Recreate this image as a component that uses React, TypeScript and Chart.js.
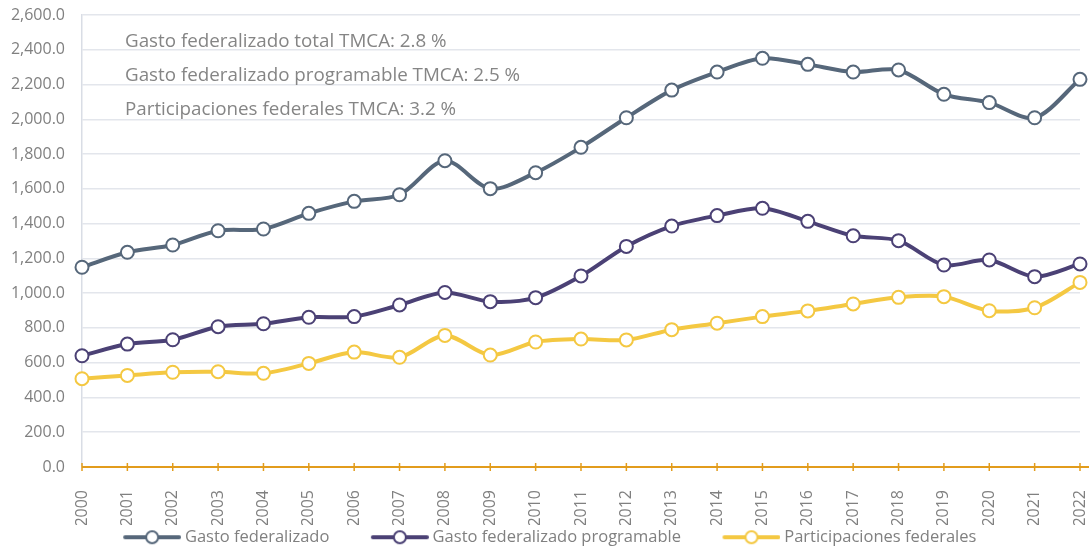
import { useEffect, useRef } from 'react';
import { Chart, registerables } from 'chart.js';

Chart.register(...registerables);

const years = [
  '2000', '2001', '2002', '2003', '2004', '2005', '2006', '2007', '2008', '2009', '2010', '2011',
  '2012', '2013', '2014', '2015', '2016', '2017', '2018', '2019', '2020', '2021', '2022',
];
const gastoFederalizado = [
  1149, 1235, 1277, 1359, 1369, 1459, 1528, 1566, 1762, 1601, 1693, 1839,
  2009, 2168, 2272, 2351, 2316, 2272, 2284, 2144, 2096, 2009, 2230,
];
const gastoProgramable = [
  640, 707, 732, 807, 824, 861, 865, 932, 1004, 951, 974, 1099,
  1269, 1386, 1446, 1488, 1413, 1330, 1302, 1162, 1191, 1095, 1168,
];
const participacionesFederales = [
  508, 527, 545, 548, 539, 596, 661, 631, 757, 644, 719, 736,
  731, 790, 827, 865, 898, 938, 976, 980, 899, 916, 1062,
];
const seriesNames = ['Gasto federalizado', 'Gasto federalizado programable', 'Participaciones federales'];
const seriesColors = ['#56677a', '#4b4175', '#f4c842'];
const tmcaNotes = [
  'Gasto federalizado total TMCA: 2.8 %',
  'Gasto federalizado programable TMCA: 2.5 %',
  'Participaciones federales TMCA: 3.2 %',
];
const yMax = 2600;
const yStep = 200;

const FONT = '"Open Sans", sans-serif';
const TEXT_GRAY = '#808080';
const AXIS_ORANGE = '#e29c1c';

// Legend swatch: a line segment with a hollow marker; the transparent lead-in
// on the left widens the gap between legend entries.
const SWATCH_W = 100;
const SWATCH_BOX = 91;
function legendMarker(color: string): HTMLCanvasElement {
  const c = document.createElement('canvas');
  c.width = SWATCH_W;
  c.height = 16;
  const ctx = c.getContext('2d')!;
  const x0 = SWATCH_W - 58;
  ctx.strokeStyle = color;
  ctx.lineWidth = 4;
  ctx.lineCap = 'round';
  ctx.beginPath();
  ctx.moveTo(x0 + 2, 8);
  ctx.lineTo(x0 + 56, 8);
  ctx.stroke();
  ctx.beginPath();
  ctx.arc(x0 + 29, 8, 6, 0, Math.PI * 2);
  ctx.fillStyle = '#ffffff';
  ctx.fill();
  ctx.lineWidth = 2;
  ctx.stroke();
  return c;
}

// Growth-rate notes in the upper-left corner of the plot
const notesPlugin = {
  id: 'tmcaNotes',
  beforeDatasetsDraw(chart: any) {
    const { ctx, chartArea } = chart;
    ctx.save();
    ctx.font = `18.8px ${FONT}`;
    ctx.fillStyle = '#858585';
    ctx.textBaseline = 'middle';
    tmcaNotes.forEach((t, i) => {
      ctx.fillText(t, chartArea.left + 43, chartArea.top + 27 + i * 34);
    });
    ctx.restore();
  },
};

// Orange baseline with tick marks crossing it at every year
const baselinePlugin = {
  id: 'orangeBaseline',
  beforeDatasetsDraw(chart: any) {
    const { ctx, chartArea, scales } = chart;
    const y = scales.y.getPixelForValue(0);
    ctx.save();
    ctx.strokeStyle = AXIS_ORANGE;
    ctx.lineWidth = 2;
    ctx.beginPath();
    ctx.moveTo(chartArea.left, y);
    ctx.lineTo(chart.width, y);
    ctx.stroke();
    ctx.lineWidth = 1.5;
    years.forEach((_, i) => {
      const x = scales.x.getPixelForValue(i);
      ctx.beginPath();
      ctx.moveTo(x, y - 4);
      ctx.lineTo(x, y + 4);
      ctx.stroke();
    });
    ctx.restore();
  },
};

// Nudge the legend row a little to the left of centre
const legendOffsetPlugin = {
  id: 'legendOffset',
  afterLayout(chart: any) {
    const lg = chart.legend;
    if (lg) {
      lg.left -= 9;
      lg.right -= 9;
    }
  },
};

export default function App() {
  const canvasRef = useRef<HTMLCanvasElement>(null);

  useEffect(() => {
    if (!canvasRef.current) return;
    const seriesData = [gastoFederalizado, gastoProgramable, participacionesFederales];
    const chart = new Chart(canvasRef.current, {
      type: 'line',
      data: {
        labels: years,
        datasets: seriesData.map((d, i) => ({
          label: seriesNames[i],
          data: d,
          borderColor: seriesColors[i],
          backgroundColor: seriesColors[i],
          borderWidth: 4,
          pointRadius: 6.5,
          pointBorderWidth: 2,
          pointBackgroundColor: '#ffffff',
          pointBorderColor: seriesColors[i],
          tension: 0.3,
          clip: false,
        })),
      },
      options: {
        animation: false,
        responsive: true,
        maintainAspectRatio: false,
        layout: { padding: { top: 15, right: 9, left: 0, bottom: 0 } },
        plugins: {
          tooltip: { enabled: false },
          legend: {
            position: 'bottom',
            maxHeight: 27,
            labels: {
              usePointStyle: true,
              pointStyleWidth: SWATCH_BOX,
              padding: 4,
              color: TEXT_GRAY,
              font: { family: FONT, size: 16.5 },
              generateLabels: (chart: any) =>
                chart.data.datasets.map((ds: any, i: number) => ({
                  text: ds.label,
                  pointStyle: legendMarker(seriesColors[i]),
                  fillStyle: seriesColors[i],
                  strokeStyle: seriesColors[i],
                  fontColor: TEXT_GRAY,
                  lineWidth: 0,
                  hidden: false,
                  datasetIndex: i,
                })),
            },
          },
        },
        scales: {
          x: {
            offset: false,
            grid: { display: false },
            border: { display: false },
            ticks: {
              color: TEXT_GRAY,
              font: { family: FONT, size: 16 },
              minRotation: 90,
              maxRotation: 90,
              padding: 15,
            },
            afterFit: (scale: any) => {
              scale.height = 58;
              scale.paddingLeft = 0;
              scale.paddingRight = 0;
            },
          },
          y: {
            min: 0,
            max: yMax,
            grid: { color: '#e3e6ec', lineWidth: 1.5, drawTicks: false },
            border: { color: '#d9dde5', width: 1.5 },
            ticks: {
              stepSize: yStep,
              color: TEXT_GRAY,
              font: { family: FONT, size: 16 },
              padding: 17,
              callback: (v: any) =>
                Number(v).toLocaleString('en-US', { minimumFractionDigits: 1, maximumFractionDigits: 1 }),
            },
            afterFit: (scale: any) => {
              scale.width = 82;
              scale.paddingTop = 0;
              scale.paddingBottom = 0;
            },
          },
        },
      },
      plugins: [notesPlugin, baselinePlugin, legendOffsetPlugin],
    });
    return () => chart.destroy();
  }, []);

  return (
    <div style={{ position: 'fixed', left: 0, top: 0, width: 1089, height: 552, background: '#ffffff' }}>
      <canvas ref={canvasRef} />
    </div>
  );
}
